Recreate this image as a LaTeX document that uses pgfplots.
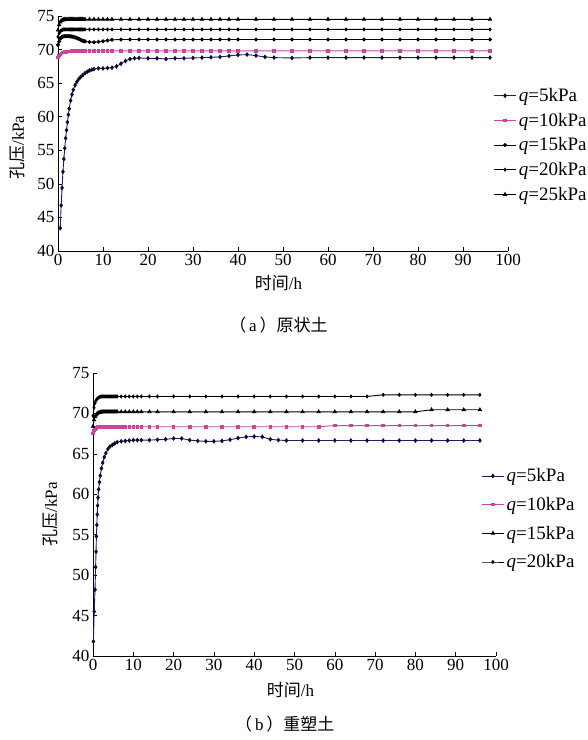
\documentclass[border=0pt]{standalone}
\usepackage{fontspec}
\usepackage{pgfplots}
\usepackage{pgfplotstable}
\pgfplotsset{compat=1.18}
\setmainfont{Liberation Serif}
\newfontfamily\cjk{Noto Sans CJK SC}

\definecolor{navy}{RGB}{30,30,110}
\definecolor{pinkq}{RGB}{200,70,160}

% (a) undisturbed soil: time, pore pressure for q = 10..25 kPa
\pgfplotstableread{
t     q10    q15    q20    q25
0     68.8   70.7   71.9   72.9
0.25  69.1   71.2   72.4   73.7
0.5   69.3   71.6   72.7   74.1
0.75  69.45  71.8   72.85  74.3
1     69.55  71.9   72.95  74.4
1.25  69.6   71.95  73.0   74.45
1.5   69.65  72.0   73.0   74.5
1.75  69.68  72.0   73.0   74.5
2     69.7   72.0   73.0   74.5
2.25  69.72  72.0   73.0   74.5
2.5   69.74  72.0   73.0   74.5
2.75  69.75  71.98  73.0   74.5
3     69.76  71.95  73.0   74.5
3.25  69.77  71.92  73.0   74.5
3.5   69.78  71.88  73.0   74.5
3.75  69.78  71.83  73.0   74.5
4     69.79  71.78  73.0   74.5
4.25  69.79  71.7   73.0   74.5
4.5   69.8   71.62  73.0   74.5
4.75  69.8   71.55  73.0   74.5
5     69.8   71.45  73.0   74.5
5.25  69.8   71.38  73.0   74.5
5.5   69.8   71.32  73.0   74.5
5.75  69.8   71.27  73.0   74.5
6     69.8   71.22  73.0   74.5
7     69.8   71.12  73.0   74.5
8     69.8   71.1   73.0   74.5
9     69.8   71.15  73.0   74.5
10    69.8   71.25  73.0   74.5
11    69.8   71.35  73.0   74.5
12    69.8   71.45  73.0   74.5
14    69.8   71.5   73.0   74.5
16    69.8   71.5   73.0   74.5
18    69.8   71.5   73.0   74.5
20    69.8   71.5   73.0   74.5
22    69.8   71.5   73.0   74.5
24    69.8   71.5   73.0   74.5
26    69.8   71.5   73.0   74.5
28    69.8   71.5   73.0   74.5
30    69.8   71.5   73.0   74.5
32    69.8   71.5   73.0   74.5
34    69.8   71.5   73.0   74.5
36    69.8   71.5   73.0   74.5
38    69.8   71.5   73.0   74.5
40    69.8   71.5   73.0   74.5
44    69.8   71.5   73.0   74.5
48    69.8   71.5   73.0   74.5
52    69.8   71.5   73.0   74.5
56    69.8   71.5   73.0   74.5
60    69.8   71.5   73.0   74.5
64    69.8   71.5   73.0   74.5
68    69.8   71.5   73.0   74.5
72    69.8   71.5   73.0   74.5
76    69.8   71.5   73.0   74.5
80    69.8   71.5   73.0   74.5
84    69.8   71.5   73.0   74.5
88    69.8   71.5   73.0   74.5
92    69.8   71.5   73.0   74.5
96    69.8   71.5   73.0   74.5
}\tableA

% (b) remoulded soil: time, pore pressure for q = 10..20 kPa
\pgfplotstableread{
t     q10    q15    q20
0     67.5   68.4   69.7
0.25  67.9   69.2   70.7
0.5   68.1   69.6   71.3
0.75  68.2   69.8   71.6
1     68.25  69.95  71.8
1.25  68.3   70.05  71.9
1.5   68.3   70.1   72.0
1.75  68.32  70.15  72.05
2     68.33  70.18  72.1
2.25  68.35  70.2   72.1
2.5   68.35  70.2   72.1
2.75  68.35  70.2   72.1
3     68.35  70.2   72.1
3.25  68.35  70.2   72.1
3.5   68.35  70.2   72.1
3.75  68.35  70.2   72.1
4     68.35  70.2   72.1
4.25  68.35  70.2   72.1
4.5   68.35  70.2   72.1
4.75  68.35  70.2   72.1
5     68.35  70.2   72.1
5.25  68.35  70.2   72.1
5.5   68.35  70.2   72.1
5.75  68.35  70.2   72.1
6     68.35  70.2   72.1
7     68.35  70.2   72.1
8     68.35  70.2   72.1
9     68.35  70.2   72.1
10    68.35  70.2   72.1
11    68.35  70.2   72.1
12    68.35  70.2   72.1
14    68.35  70.2   72.1
16    68.35  70.2   72.1
20    68.35  70.2   72.1
24    68.35  70.2   72.1
28    68.35  70.2   72.1
32    68.35  70.2   72.1
36    68.35  70.2   72.1
40    68.35  70.2   72.1
44    68.35  70.2   72.1
48    68.35  70.2   72.1
52    68.35  70.2   72.1
56    68.35  70.2   72.1
60    68.5   70.2   72.1
64    68.5   70.2   72.1
68    68.5   70.2   72.1
72    68.5   70.2   72.3
76    68.5   70.2   72.3
80    68.5   70.2   72.3
84    68.5   70.45  72.3
88    68.5   70.45  72.3
92    68.5   70.45  72.3
96    68.5   70.45  72.3
}\tableB

\pgfplotsset{
  porestyle/.style={
    scale only axis, anchor=south west,
    xmin=0, xmax=100, ymin=40, ymax=75,
    axis lines=left, axis line style={-, line width=0.8pt},
    tick align=inside, major tick length=4pt,
    tick style={black, line width=0.6pt},
    xtick={0,10,...,100}, ytick={40,45,...,75},
    /pgf/number format/assume math mode=true,
    ticklabel style={font=\fontsize{17}{19}\selectfont},
    label style={font=\fontsize{17}{19}\selectfont},
    legend style={draw=none, fill=none, font=\fontsize{19}{21}\selectfont,
      cells={anchor=west}},
    legend cell align=left,
    legend image code/.code={
      \draw[mark repeat=2, mark phase=2]
        plot coordinates {(0cm,0cm) (0.4cm,0cm) (0.8cm,0cm)};},
    clip=false,
  },
  s5/.style={navy, line width=0.9pt, mark=diamond*, mark size=1.7pt,
    mark options={draw=black!60!navy, fill=black!60!navy}},
  s10/.style={pinkq, line width=0.9pt, mark=square*, mark size=1.3pt},
  s15/.style={black, line width=0.9pt, mark=*, mark size=1.5pt},
  s20/.style={black, line width=0.9pt, mark=diamond*, mark size=1.4pt},
  s25/.style={black, line width=0.9pt, mark=triangle*, mark size=1.8pt},
}

\begin{document}
\begin{tikzpicture}
\path[use as bounding box] (0,0) rectangle (588pt,740pt);

%--------------------------------------------------
% (a)
%--------------------------------------------------
\begin{axis}[porestyle,
    at={(58pt,489pt)}, width=450pt, height=235pt,
    xlabel={{\cjk 时间}/h},
    ylabel={{\cjk 孔压}/kPa},
    xlabel style={at={(axis description cs:0.49,-0.135)}, anchor=center},
    ylabel style={at={(axis description cs:-0.09,0.44)}, anchor=center},
    legend style={at={(0.96,0.71)}, anchor=north west, row sep=6pt},
]
\addplot[s5] coordinates {
  (0.5,43.4)(0.7,46.8)(0.9,49.4)(1.1,51.8)(1.3,53.7)(1.5,55.3)(1.7,56.8)
  (1.9,58.0)(2.1,59.2)(2.3,60.3)(2.5,61.2)(2.8,62.4)(3.1,63.3)(3.4,64.0)
  (3.8,64.7)(4.2,65.2)(4.6,65.6)(5.0,65.9)(5.5,66.2)(6.0,66.5)(6.5,66.7)
  (7,66.9)(7.5,67.0)(8,67.1)(9,67.2)(10,67.2)(11,67.25)(12,67.3)(13,67.5)
  (14,67.9)(15,68.3)(16,68.6)(17,68.7)(18,68.75)(20,68.7)(22,68.7)(24,68.6)
  (26,68.7)(28,68.7)(30,68.75)(32,68.8)(34,68.85)(36,68.9)(38,69.05)
  (40,69.2)(42,69.25)(44,69.1)(46,68.9)(48,68.8)(52,68.75)(56,68.8)
  (60,68.8)(64,68.8)(68,68.8)(72,68.8)(76,68.8)(80,68.8)(84,68.8)
  (88,68.8)(92,68.8)(96,68.8)
};
\addlegendentry{\textit{q}=5kPa}
\addplot[s10] table[x=t, y=q10] {\tableA};
\addlegendentry{\textit{q}=10kPa}
\addplot[s15] table[x=t, y=q15] {\tableA};
\addlegendentry{\textit{q}=15kPa}
\addplot[s20] table[x=t, y=q20] {\tableA};
\addlegendentry{\textit{q}=20kPa}
\addplot[s25] table[x=t, y=q25] {\tableA};
\addlegendentry{\textit{q}=25kPa}
\node[font=\fontsize{17}{19}\selectfont] at (axis description cs:0.49,-0.315)
  {{\cjk （}\,a\,{\cjk ）原状土}};
\end{axis}

%--------------------------------------------------
% (b)
%--------------------------------------------------
\begin{axis}[porestyle,
    at={(93pt,84pt)}, width=403pt, height=283pt,
    xlabel={{\cjk 时间}/h},
    ylabel={{\cjk 孔压}/kPa},
    xlabel style={at={(axis description cs:0.49,-0.12)}, anchor=center},
    ylabel style={at={(axis description cs:-0.105,0.5)}, anchor=center},
    legend style={at={(0.955,0.677)}, anchor=north west, row sep=10pt},
]
\addplot[s5] coordinates {
  (0.1,41.8)(0.3,45.5)(0.5,48.2)(0.65,51.0)(0.75,52.9)(0.85,54.8)(0.95,56.2)
  (1.05,57.5)(1.15,58.6)(1.25,59.6)(1.4,60.6)(1.6,61.5)(1.8,62.3)(2.1,63.2)
  (2.4,63.9)(2.8,64.6)(3.2,65.1)(3.7,65.6)(4.2,65.9)(4.8,66.1)(5.4,66.3)
  (6,66.45)(7,66.55)(8,66.6)(9,66.65)(10,66.7)(11,66.7)(12,66.7)(14,66.7)
  (16,66.75)(18,66.8)(20,66.9)(22,66.9)(24,66.7)(26,66.6)(28,66.55)
  (30,66.55)(32,66.6)(34,66.75)(36,66.95)(38,67.1)(40,67.15)(42,67.1)
  (44,66.8)(46,66.7)(48,66.65)(52,66.65)(56,66.65)(60,66.65)(64,66.65)
  (68,66.65)(72,66.65)(76,66.65)(80,66.65)(84,66.65)(88,66.65)(92,66.65)
  (96,66.65)
};
\addlegendentry{\textit{q}=5kPa}
\addplot[s10] table[x=t, y=q10] {\tableB};
\addlegendentry{\textit{q}=10kPa}
\addplot[s25] table[x=t, y=q15] {\tableB};
\addlegendentry{\textit{q}=15kPa}
\addplot[s20] table[x=t, y=q20] {\tableB};
\addlegendentry{\textit{q}=20kPa}
\node[font=\fontsize{17}{19}\selectfont] at (axis description cs:0.476,-0.24)
  {{\cjk （}\,b\,{\cjk ）重塑土}};
\end{axis}
\end{tikzpicture}
\end{document}
